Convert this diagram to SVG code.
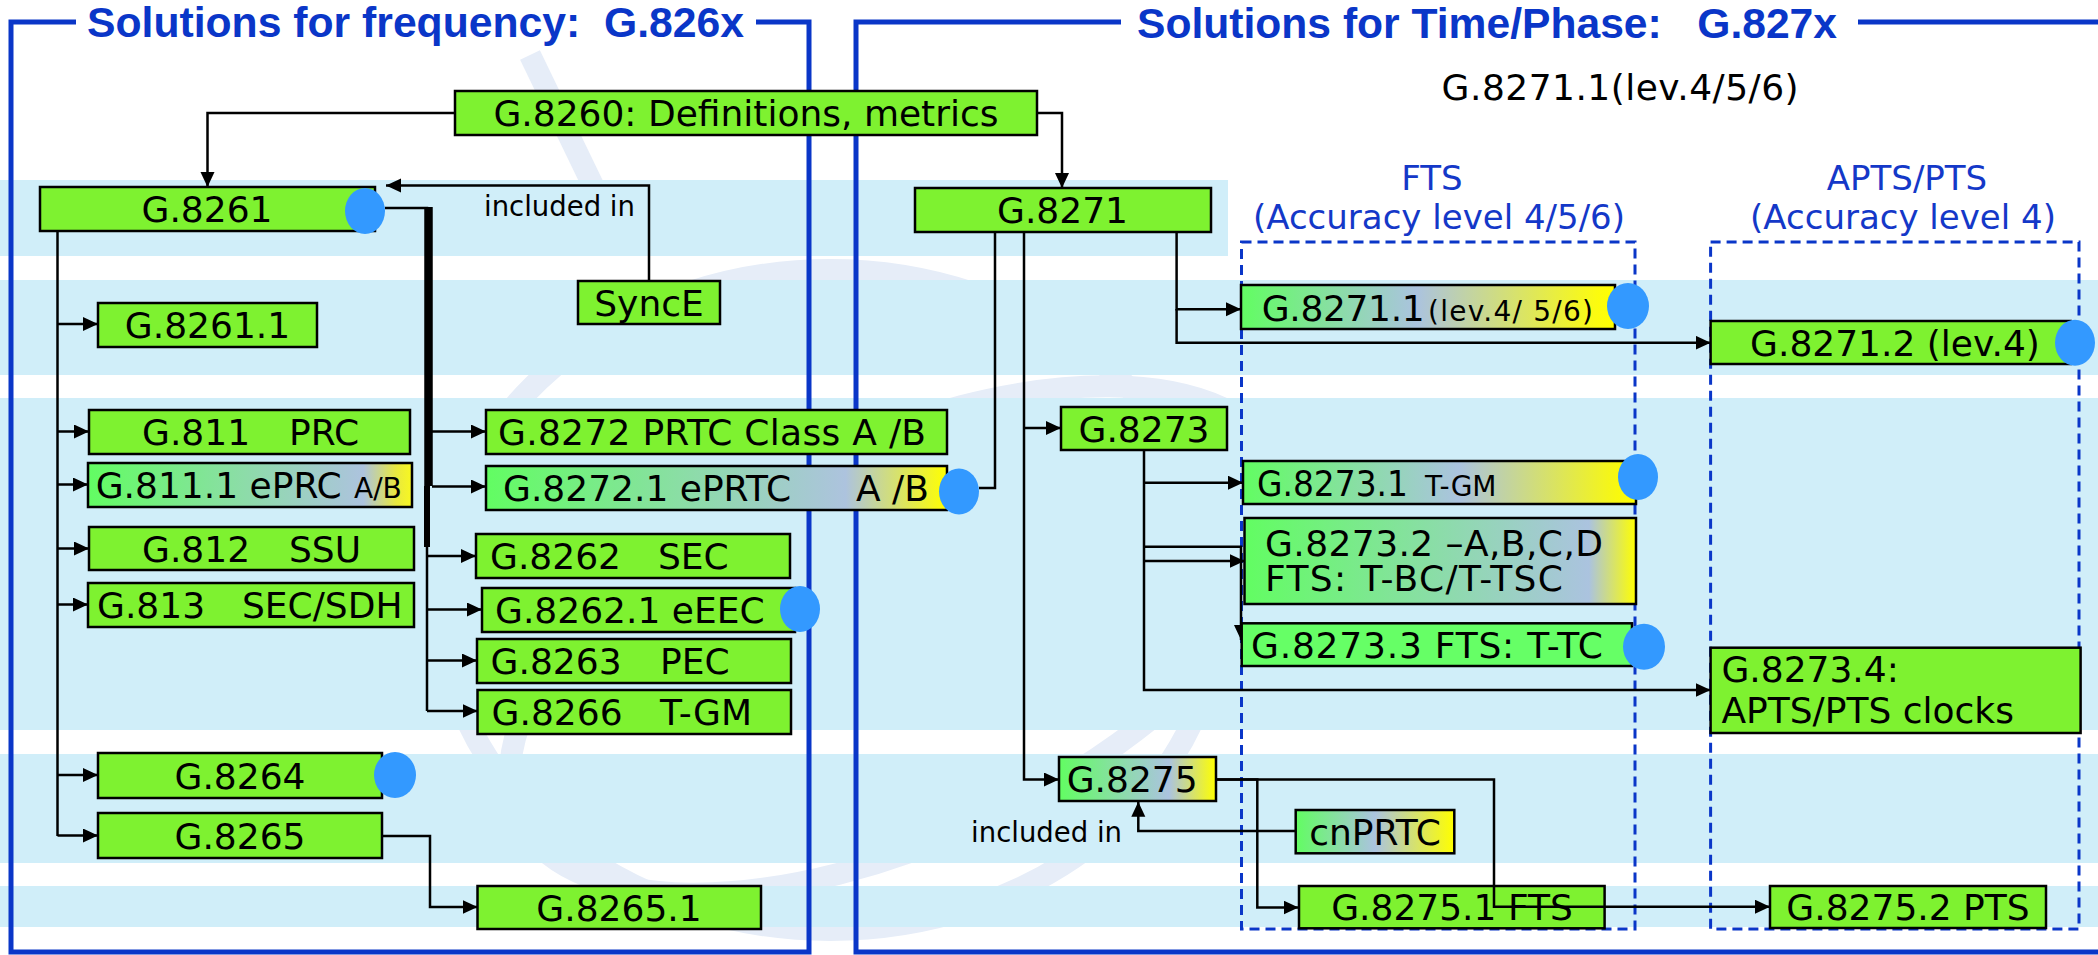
<svg xmlns="http://www.w3.org/2000/svg" width="2098" height="955" viewBox="0 0 2098 955">
<style>
.band{fill:#d0eef9}
.wm{fill:none;stroke:#e6edf8;stroke-width:22}
.frame{fill:none;stroke:#0a36c8;stroke-width:5}
.title{font-family:"Liberation Sans",Arial,sans-serif;font-weight:bold;font-size:42px;fill:#0a36c8;white-space:pre}
.dash{fill:none;stroke:#0a36c8;stroke-width:3;stroke-dasharray:10 6}
.box{fill:#7ef230;stroke:#000;stroke-width:2.5}
.t{font-family:"DejaVu Sans","Noto Sans",sans-serif;font-size:36px;fill:#000;white-space:pre}
.s{font-family:"DejaVu Sans","Noto Sans",sans-serif;font-size:28px;fill:#000}
.c{text-anchor:middle}
.hdr{font-family:"DejaVu Sans","Noto Sans",sans-serif;font-size:34px;fill:#1438c8;text-anchor:middle}
.dot{fill:#3399ff}
.con{fill:none;stroke:#000;stroke-width:2.5}
.lbl{font-family:"DejaVu Sans","Noto Sans",sans-serif;font-size:27.5px;fill:#000}
</style>
<defs>
<marker id="arr" markerUnits="userSpaceOnUse" markerWidth="16" markerHeight="16" refX="15" refY="7" orient="auto">
<path d="M0,0 L15,7 L0,14 z" fill="#000"/>
</marker>
<linearGradient id="g811"><stop offset="0" stop-color="#62fd62"/><stop offset="0.85" stop-color="#adc3de"/><stop offset="0.95" stop-color="#e8e840"/><stop offset="1" stop-color="#f8f820"/></linearGradient>
<linearGradient id="g82721"><stop offset="0" stop-color="#62fd62"/><stop offset="0.78" stop-color="#adc3de"/><stop offset="1" stop-color="#ffff00"/></linearGradient>
<linearGradient id="g82711"><stop offset="0" stop-color="#62fd62"/><stop offset="0.47" stop-color="#abc3df"/><stop offset="0.95" stop-color="#fbfb10"/><stop offset="1" stop-color="#ffff00"/></linearGradient>
<linearGradient id="g82731"><stop offset="0" stop-color="#62fd62"/><stop offset="0.55" stop-color="#abc3df"/><stop offset="0.95" stop-color="#f8f810"/><stop offset="1" stop-color="#ffff00"/></linearGradient>
<linearGradient id="g82732"><stop offset="0" stop-color="#62fd62"/><stop offset="0.88" stop-color="#abc3df"/><stop offset="1" stop-color="#ffff00"/></linearGradient>
<linearGradient id="g8275"><stop offset="0" stop-color="#62fd62"/><stop offset="0.7" stop-color="#abc3df"/><stop offset="1" stop-color="#ffff00"/></linearGradient>
<linearGradient id="gcn"><stop offset="0" stop-color="#62fd62"/><stop offset="0.5" stop-color="#abc3df"/><stop offset="1" stop-color="#ffff00"/></linearGradient>
</defs>
<rect width="2098" height="955" fill="#fff"/>
<g id="watermark">
<ellipse class="wm" cx="830" cy="600" rx="390" ry="330"/>
<ellipse class="wm" cx="900" cy="640" rx="420" ry="200" transform="rotate(-25 900 640)"/>
<path class="wm" d="M530,55 L600,200"/>
</g>
<g id="bands">
<rect class="band" x="0" y="180" width="1228" height="76"/>
<rect class="band" x="0" y="280" width="2098" height="95"/>
<rect class="band" x="0" y="398" width="2098" height="332"/>
<rect class="band" x="0" y="754" width="2098" height="109"/>
<rect class="band" x="0" y="886" width="2098" height="41"/>
</g>
<g id="frames">
<path class="frame" d="M76,22 H11 V952 H809 V22 H756"/>
<path class="frame" d="M1121,22 H856 V952 H2105 M1858,22 H2105"/>
<text class="title" x="87" y="37" textLength="657" lengthAdjust="spacingAndGlyphs">Solutions for frequency:  G.826x</text>
<text class="title" x="1137" y="38" textLength="700" lengthAdjust="spacingAndGlyphs">Solutions for Time/Phase:   G.827x</text>
</g>
<g id="groups">
<rect class="dash" x="1241.5" y="242" width="393.5" height="687"/>
<rect class="dash" x="1710.6" y="242" width="368.4" height="687"/>
<text class="t" x="1441.6" y="100" textLength="357">G.8271.1(lev.4/5/6)</text>
<text class="hdr" x="1432" y="190">FTS</text>
<text class="hdr" x="1439" y="229">(Accuracy level 4/5/6)</text>
<text class="hdr" x="1907" y="190">APTS/PTS</text>
<text class="hdr" x="1903" y="229">(Accuracy level 4)</text>
</g>
<g id="connectors">
<path class="con" d="M455,113 H207.5 V187" marker-end="url(#arr)"/>
<path class="con" d="M1037,113 H1062 V188" marker-end="url(#arr)"/>
<path class="con" d="M649,281 V185.5 H386" marker-end="url(#arr)"/>
<path class="con" d="M57.5,231 V836"/>
<path class="con" d="M57.5,324 H98" marker-end="url(#arr)"/>
<path class="con" d="M57.5,431.5 H89" marker-end="url(#arr)"/>
<path class="con" d="M57.5,484.5 H88" marker-end="url(#arr)"/>
<path class="con" d="M57.5,548.5 H89" marker-end="url(#arr)"/>
<path class="con" d="M57.5,604.5 H88" marker-end="url(#arr)"/>
<path class="con" d="M57.5,775 H98" marker-end="url(#arr)"/>
<path class="con" d="M57.5,835.5 H98" marker-end="url(#arr)"/>
<path class="con" d="M385,208 H427 V711"/>
<path d="M428.5,207 V486" stroke="#000" stroke-width="8.5" fill="none"/>
<path d="M427,486 V547" stroke="#000" stroke-width="6" fill="none"/>
<path class="con" d="M432,431.5 H486" marker-end="url(#arr)"/>
<path class="con" d="M432,486.5 H486" marker-end="url(#arr)"/>
<path class="con" d="M427,556 H476" marker-end="url(#arr)"/>
<path class="con" d="M427,609.5 H482" marker-end="url(#arr)"/>
<path class="con" d="M427,660.5 H477" marker-end="url(#arr)"/>
<path class="con" d="M427,711 H477.5" marker-end="url(#arr)"/>
<path class="con" d="M382,836 H430 V907 H477.5" marker-end="url(#arr)"/>
<path class="con" d="M995,232 V488 H979"/>
<path class="con" d="M1024,232 V779.5 H1059" marker-end="url(#arr)"/>
<path class="con" d="M1024,428 H1061" marker-end="url(#arr)"/>
<path class="con" d="M1176.6,232 V309.3 H1241" marker-end="url(#arr)"/>
<path class="con" d="M1176.6,309 V342.7 H1710.6" marker-end="url(#arr)"/>
<path class="con" d="M1144,450 V690 H1710.6" marker-end="url(#arr)"/>
<path class="con" d="M1144,482.7 H1243" marker-end="url(#arr)"/>
<path class="con" d="M1144,561 H1244.5" marker-end="url(#arr)"/>
<path class="con" d="M1144,546.7 H1241 V640" marker-end="url(#arr)"/>
<path class="con" d="M1216,779.5 H1257.3 V907.5 H1298.5" marker-end="url(#arr)"/>
<path class="con" d="M1295.7,831 H1138.3 V801.7" marker-end="url(#arr)"/>
<text class="lbl" x="484" y="216">included in</text>
<text class="lbl" x="1122" y="842" text-anchor="end">included in</text>
</g>
<g id="n8260"><rect class="box" x="455" y="91" width="582" height="44"/><text class="t c" x="746" y="126">G.8260: Definitions, metrics</text></g>
<g id="n8261"><rect class="box" x="40" y="187" width="335" height="44"/><text class="t c" x="207" y="222">G.8261</text><ellipse class="dot" cx="365" cy="211" rx="20" ry="23"/></g>
<g id="nSyncE"><rect class="box" x="578" y="281" width="142" height="43"/><text class="t c" x="649" y="315.5">SyncE</text></g>
<g id="n82611"><rect class="box" x="98" y="303" width="219" height="44"/><text class="t c" x="207.5" y="338">G.8261.1</text></g>
<g id="n811"><rect class="box" x="89" y="410" width="321" height="44"/><text class="t" x="142" y="445">G.811</text><text class="t" x="289" y="445">PRC</text></g>
<g id="n8111"><rect class="box" x="88" y="463" width="324" height="44" style="fill:url(#g811)"/><text class="t" x="95.7" y="498">G.811.1 ePRC</text><text class="s" x="354" y="498">A/B</text></g>
<g id="n812"><rect class="box" x="89" y="527" width="325" height="43"/><text class="t" x="142" y="561.5">G.812</text><text class="t" x="289" y="561.5">SSU</text></g>
<g id="n813"><rect class="box" x="88" y="583" width="326" height="44"/><text class="t" x="97" y="618">G.813</text><text class="t" x="242" y="618">SEC/SDH</text></g>
<g id="n8272"><rect class="box" x="486" y="410" width="461" height="44"/><text class="t" x="498" y="445" textLength="428">G.8272 PRTC Class A /B</text></g>
<g id="n82721"><rect class="box" x="486" y="466" width="461" height="44" style="fill:url(#g82721)"/><text class="t" x="503" y="501">G.8272.1 ePRTC</text><text class="t" x="856" y="501">A /B</text><ellipse class="dot" cx="959" cy="491.5" rx="20" ry="23"/></g>
<g id="n8262"><rect class="box" x="476" y="534" width="314" height="44"/><text class="t" x="490" y="569">G.8262</text><text class="t" x="658" y="569">SEC</text></g>
<g id="n82621"><rect class="box" x="482" y="588" width="313" height="44"/><text class="t" x="495" y="623">G.8262.1 eEEC</text><ellipse class="dot" cx="800" cy="609" rx="20" ry="23"/></g>
<g id="n8263"><rect class="box" x="477" y="639" width="314" height="44"/><text class="t" x="490.6" y="674">G.8263</text><text class="t" x="660" y="674">PEC</text></g>
<g id="n8266"><rect class="box" x="477.5" y="690" width="313.5" height="44"/><text class="t" x="491.6" y="725">G.8266</text><text class="t" x="660" y="725">T-GM</text></g>
<g id="n8264"><rect class="box" x="98" y="753" width="284" height="45"/><text class="t c" x="240" y="788.5">G.8264</text><ellipse class="dot" cx="395" cy="775" rx="21" ry="23"/></g>
<g id="n8265"><rect class="box" x="98" y="813" width="284" height="45"/><text class="t c" x="240" y="848.5">G.8265</text></g>
<g id="n82651"><rect class="box" x="477.5" y="886" width="283.5" height="43"/><text class="t c" x="619" y="920.5">G.8265.1</text></g>
<g id="n8271"><rect class="box" x="915" y="188" width="296" height="44"/><text class="t c" x="1062.5" y="223">G.8271</text></g>
<g id="n82711"><rect class="box" x="1241" y="285" width="374" height="44" style="fill:url(#g82711)"/><text class="t" x="1261.7" y="320.5" textLength="163">G.8271.1</text><text class="s" x="1428" y="320.5" textLength="165">(lev.4/ 5/6)</text><ellipse class="dot" cx="1628" cy="306" rx="21" ry="23"/></g>
<g id="n82712"><rect class="box" x="1710.6" y="321" width="360" height="43"/><text class="t c" x="1895" y="355.5">G.8271.2 (lev.4)</text><ellipse class="dot" cx="2075" cy="342.7" rx="20" ry="23"/></g>
<g id="n8273"><rect class="box" x="1061" y="407" width="166" height="43"/><text class="t c" x="1144" y="441.5">G.8273</text></g>
<g id="n82731"><rect class="box" x="1243" y="461" width="393" height="43" style="fill:url(#g82731)"/><text class="t" x="1257" y="495.5" textLength="151" lengthAdjust="spacingAndGlyphs">G.8273.1</text><text class="s" x="1425" y="495.5">T-GM</text><ellipse class="dot" cx="1638" cy="477" rx="20" ry="23"/></g>
<g id="n82732"><rect class="box" x="1244.5" y="518" width="391.5" height="86" style="fill:url(#g82732)"/><text class="t" x="1265" y="556" textLength="338">G.8273.2 –A,B,C,D</text><text class="t" x="1265" y="591" textLength="298">FTS: T-BC/T-TSC</text></g>
<g id="n82733"><rect class="box" x="1241.7" y="623.3" width="390.3" height="42.7" style="fill:#66ff66"/><text class="t" x="1251" y="658" textLength="352">G.8273.3 FTS: T-TC</text><ellipse class="dot" cx="1644" cy="646.7" rx="21" ry="23"/></g>
<g id="n82734"><rect class="box" x="1710.6" y="647.7" width="370" height="85.3"/><text class="t" x="1721.4" y="682">G.8273.4:</text><text class="t" x="1721.4" y="723">APTS/PTS clocks</text></g>
<g id="n8275"><rect class="box" x="1059" y="757" width="157" height="44" style="fill:url(#g8275)"/><text class="t" x="1066.7" y="792">G.8275</text></g>
<g id="ncnPRTC"><rect class="box" x="1295.7" y="810" width="158.6" height="43.3" style="fill:url(#gcn)"/><text class="t c" x="1375" y="844.5">cnPRTC</text></g>
<g id="n82751"><rect class="box" x="1299" y="886" width="305.6" height="42.3"/><text class="t c" x="1452" y="920">G.8275.1 FTS</text></g>
<g id="n82752"><rect class="box" x="1770" y="886" width="276" height="42"/><text class="t c" x="1908" y="920">G.8275.2 PTS</text></g>
<g id="connectors-top">
<path class="con" d="M1216,779.5 H1494 V906.7 H1770" marker-end="url(#arr)"/>
</g>
</svg>
